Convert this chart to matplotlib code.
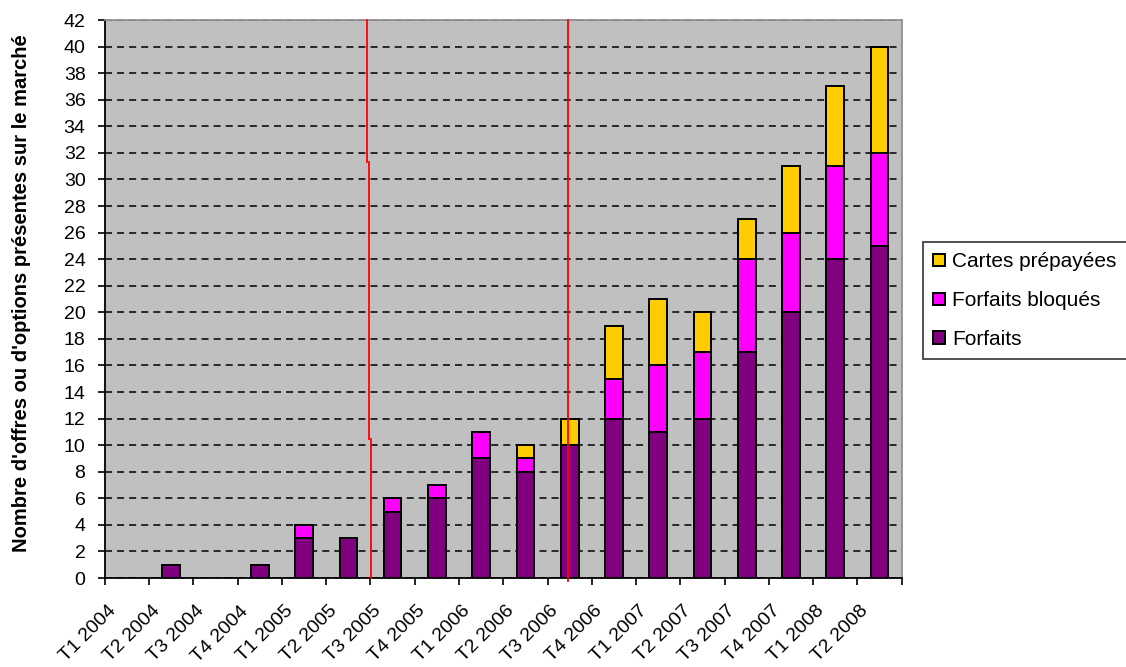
import matplotlib
matplotlib.use("Agg")
from matplotlib import pyplot as plt
from matplotlib import transforms
import numpy as np

plt.rcParams['font.family'] = ['Liberation Sans', 'DejaVu Sans']

trimestres = ['T1 2004', 'T2 2004', 'T3 2004', 'T4 2004',
              'T1 2005', 'T2 2005', 'T3 2005', 'T4 2005',
              'T1 2006', 'T2 2006', 'T3 2006', 'T4 2006',
              'T1 2007', 'T2 2007', 'T3 2007', 'T4 2007',
              'T1 2008', 'T2 2008']
forfaits = [0, 1, 0, 1, 3, 3, 5, 6, 9, 8, 10, 12, 11, 12, 17, 20, 24, 25]
forfaits_bloques = [0, 0, 0, 0, 1, 0, 1, 1, 2, 1, 0, 3, 5, 5, 7, 6, 7, 7]
cartes_prepayees = [0, 0, 0, 0, 0, 0, 0, 0, 0, 1, 2, 4, 5, 3, 3, 5, 6, 8]

# traits rouges tracés à la main : (x, y_haut, y_bas) par tronçon
trait1 = [(5.43, 42, 31.3), (5.475, 31.3, 10.5), (5.52, 10.5, 0)]
trait2 = [(9.96, 42, -0.25)]

fig = plt.figure(figsize=(11.26, 6.67), dpi=100)
ax = fig.add_axes([0.0932, 0.1334, 0.7075, 0.8366])
ax.set_facecolor('#C0C0C0')

x = np.arange(len(trimestres))
f = np.array(forfaits)
fb = np.array(forfaits_bloques)
cp = np.array(cartes_prepayees)
w = 0.4
kw = dict(width=w, edgecolor='black', linewidth=1.4, zorder=3)
b1 = ax.bar(x, np.where(f > 0, f, np.nan), color='#800080', label='Forfaits', **kw)
b2 = ax.bar(x, np.where(fb > 0, fb, np.nan), bottom=f, color='#FF00FF',
            label='Forfaits bloqués', **kw)
b3 = ax.bar(x, np.where(cp > 0, cp, np.nan), bottom=f + fb, color='#FFCC00',
            label='Cartes prépayées', **kw)

ax.set_xlim(-0.5, len(trimestres) - 0.5)
ax.set_ylim(0, 42)
ax.set_yticks(np.arange(0, 43, 2))
ax.yaxis.grid(True, color='black', linewidth=1.1, linestyle=(0, (4.6, 3.3)), zorder=1)
ax.set_axisbelow(True)

# graduations aux limites de catégories, libellés au centre
ax.set_xticks(np.arange(-0.5, len(trimestres) + 0.5, 1))
ax.set_xticklabels([])
ax.set_xticks(x, minor=True)
ax.set_xticklabels(trimestres, minor=True, rotation=45, ha='right', va='center',
                   rotation_mode='anchor', fontsize=14)
ax.tick_params(axis='x', which='minor', length=0, pad=20)
ax.tick_params(axis='x', which='major', length=5, width=1.2, direction='out')
ax.tick_params(axis='y', length=5, width=1.2, direction='out', labelsize=14, pad=9)

# décale un peu les libellés vers la gauche
decalage = transforms.ScaledTranslation(-10 / 72, -2 / 72, fig.dpi_scale_trans)
for lab in ax.get_xticklabels(minor=True):
    lab.set_transform(lab.get_transform() + decalage)

for s in ['left', 'bottom']:
    ax.spines[s].set_color('black')
    ax.spines[s].set_linewidth(1.3)
for s in ['top', 'right']:
    ax.spines[s].set_color('#909090')
    ax.spines[s].set_linewidth(1.3)

for trait in (trait1, trait2):
    for xr, y0, y1 in trait:
        ax.plot([xr, xr], [y0, y1], color='#FF0000', linewidth=1.3,
                zorder=4, clip_on=False)

fig.text(22 / 1126, 0.56, "Nombre d'offres ou d'options présentes sur le marché",
         rotation=90, ha='center', va='center', fontsize=14.5, fontweight='bold')

leg = fig.legend([b3, b2, b1], ['Cartes prépayées', 'Forfaits bloqués', 'Forfaits'],
                 loc='upper left', bbox_to_anchor=(923 / 1126, 1 - 242 / 667),
                 fontsize=15, frameon=True, fancybox=False, shadow=False,
                 handlelength=0.55, handleheight=0.55, handletextpad=0.35,
                 labelspacing=0.95, borderpad=0.5, borderaxespad=0)
leg.get_frame().set_edgecolor('black')
leg.get_frame().set_linewidth(1.2)

fig.savefig('out.png', dpi=100)
